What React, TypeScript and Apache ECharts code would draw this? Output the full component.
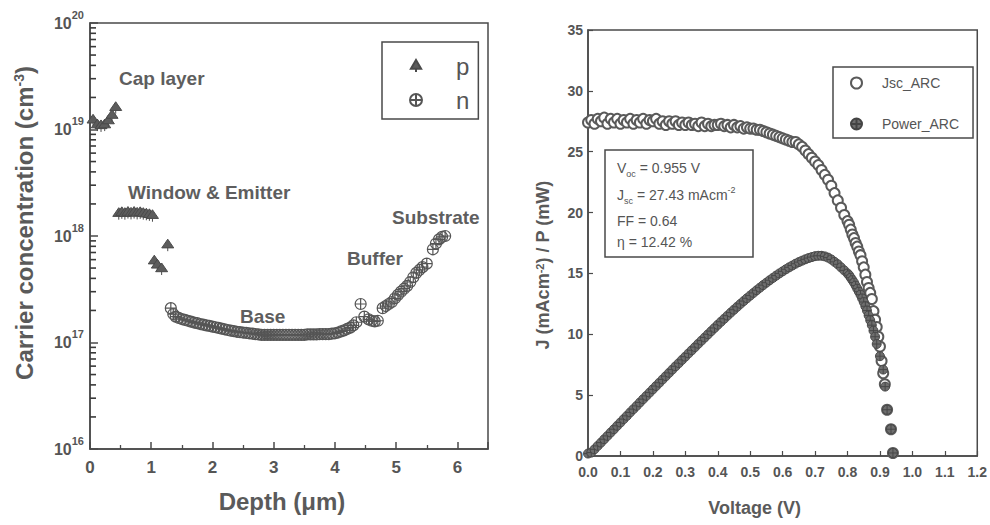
import React, { useEffect, useRef } from 'react';
import * as echarts from 'echarts';

const FONT = "'Liberation Sans', Arial, Helvetica, sans-serif";
const INK = '#4a4a4a';
const TXT = '#555555';

// ---------- Left panel: carrier concentration profile ----------
const pDepth = [0.05, 0.12, 0.18, 0.24, 0.3, 0.36, 0.42,
  0.47, 0.52, 0.57, 0.62, 0.67, 0.72, 0.77, 0.82, 0.87, 0.92, 0.97, 1.02,
  1.05, 1.1, 1.17, 1.27];
const pConc = [1.22e19, 1.1e19, 1.08e19, 1.1e19, 1.2e19, 1.35e19, 1.6e19,
  1.62e18, 1.65e18, 1.62e18, 1.66e18, 1.63e18, 1.66e18, 1.63e18, 1.65e18, 1.62e18, 1.6e18, 1.58e18, 1.55e18,
  5.8e17, 5.3e17, 4.9e17, 8.2e17];

const nDepth = [1.32, 1.36, 1.4, 1.45, 1.5, 1.55, 1.6, 1.65, 1.7, 1.75, 1.8, 1.85, 1.9, 1.95, 2.0,
  2.05, 2.1, 2.15, 2.2, 2.25, 2.3, 2.35, 2.4, 2.45, 2.5, 2.55, 2.6, 2.65, 2.7, 2.75, 2.8, 2.85,
  2.9, 2.95, 3.0, 3.05, 3.1, 3.15, 3.2, 3.25, 3.3, 3.35, 3.4, 3.45, 3.5, 3.55, 3.6, 3.65, 3.7,
  3.75, 3.8, 3.85, 3.9, 3.95, 4.0, 4.05, 4.1, 4.15, 4.2, 4.25, 4.3, 4.35, 4.42, 4.48, 4.55, 4.6,
  4.65, 4.7, 4.78, 4.83, 4.88, 4.93, 4.98, 5.03, 5.08, 5.13, 5.18, 5.23, 5.28, 5.33, 5.38, 5.43,
  5.5, 5.6, 5.65, 5.7, 5.75, 5.8];
const nConc = [2.1e17, 1.85e17, 1.75e17, 1.7e17, 1.66e17, 1.63e17, 1.6e17, 1.57e17, 1.54e17, 1.52e17,
  1.49e17, 1.47e17, 1.45e17, 1.43e17, 1.41e17, 1.39e17, 1.37e17, 1.35e17, 1.33e17, 1.31e17, 1.29e17,
  1.28e17, 1.26e17, 1.25e17, 1.24e17, 1.23e17, 1.22e17, 1.21e17, 1.2e17, 1.19e17, 1.18e17, 1.18e17,
  1.18e17, 1.18e17, 1.18e17, 1.18e17, 1.18e17, 1.18e17, 1.18e17, 1.18e17, 1.18e17, 1.18e17, 1.18e17,
  1.18e17, 1.18e17, 1.19e17, 1.19e17, 1.19e17, 1.19e17, 1.2e17, 1.2e17, 1.2e17, 1.2e17, 1.21e17,
  1.22e17, 1.24e17, 1.27e17, 1.3e17, 1.34e17, 1.38e17, 1.45e17, 1.55e17, 2.3e17, 1.75e17, 1.65e17,
  1.6e17, 1.58e17, 1.6e17, 2.1e17, 2.2e17, 2.3e17, 2.4e17, 2.6e17, 2.8e17, 3.0e17, 3.2e17, 3.4e17,
  3.7e17, 4.1e17, 4.5e17, 4.8e17, 5.1e17, 5.5e17, 7.5e17, 8.5e17, 9.3e17, 9.8e17, 1.0e18];

// minor tick positions of the log axis (2..9 × each decade)
const minorDecades = [16, 17, 18, 19];
const minorMultipliers = [2, 3, 4, 5, 6, 7, 8, 9];
const logMinorTicks = minorDecades.flatMap((d) => minorMultipliers.map((m) => m * Math.pow(10, d)));

const layerLabels = ['Cap layer', 'Window & Emitter', 'Base', 'Buffer', 'Substrate'];

// ---------- Right panel: J-V and P-V curves ----------
const jscV = [0, 0.01, 0.02, 0.03, 0.04, 0.05, 0.06, 0.07, 0.08, 0.09, 0.1, 0.11, 0.12, 0.13, 0.14,
  0.15, 0.16, 0.17, 0.18, 0.19, 0.2, 0.21, 0.22, 0.23, 0.24, 0.25, 0.26, 0.27, 0.28, 0.29, 0.3, 0.31,
  0.32, 0.33, 0.34, 0.35, 0.36, 0.37, 0.38, 0.39, 0.4, 0.41, 0.42, 0.43, 0.44, 0.45, 0.46, 0.47, 0.48,
  0.49, 0.5, 0.51, 0.52, 0.53, 0.54, 0.55, 0.56, 0.57, 0.58, 0.59, 0.6, 0.61, 0.62, 0.63, 0.64, 0.65,
  0.66, 0.67, 0.68, 0.69, 0.7, 0.71, 0.72, 0.73, 0.74, 0.75, 0.76, 0.77, 0.78, 0.79, 0.8, 0.805, 0.81,
  0.815, 0.82, 0.825, 0.83, 0.835, 0.84, 0.845, 0.85, 0.855, 0.86, 0.865, 0.87, 0.875, 0.88, 0.885,
  0.89, 0.895, 0.9, 0.905, 0.91, 0.915, 0.922, 0.934, 0.94];
const jscJ = [27.4, 27.6, 27.3, 27.7, 27.5, 27.8, 27.3, 27.7, 27.4, 27.7, 27.3, 27.6, 27.4, 27.7, 27.3,
  27.6, 27.4, 27.7, 27.3, 27.6, 27.5, 27.7, 27.3, 27.5, 27.2, 27.5, 27.3, 27.5, 27.2, 27.4, 27.2, 27.4,
  27.2, 27.3, 27.1, 27.4, 27.1, 27.3, 27.1, 27.2, 27.2, 27.3, 27.1, 27.2, 27.0, 27.2, 27.0, 27.1, 26.9,
  27.0, 26.9, 26.9, 26.8, 26.8, 26.7, 26.6, 26.5, 26.4, 26.3, 26.2, 26.1, 26.0, 25.9, 25.8, 25.8, 25.6,
  25.4, 25.1, 24.8, 24.5, 24.2, 23.9, 23.5, 23.1, 22.7, 22.2, 21.6, 21.0, 20.4, 19.8, 19.3, 19.0, 18.6,
  18.2, 17.9, 17.5, 17.2, 16.8, 16.5, 16.0, 15.5, 14.9, 14.3, 13.8, 13.4, 12.9, 11.9, 11.2,
  10.6, 9.8, 9.0, 7.8, 6.8, 5.9, 3.8, 2.2, 0.25];

const powV = [0, 0.01, 0.02, 0.03, 0.04, 0.05, 0.06, 0.07, 0.08, 0.09, 0.1, 0.11, 0.12, 0.13, 0.14,
  0.15, 0.16, 0.17, 0.18, 0.19, 0.2, 0.21, 0.22, 0.23, 0.24, 0.25, 0.26, 0.27, 0.28, 0.29, 0.3, 0.31,
  0.32, 0.33, 0.34, 0.35, 0.36, 0.37, 0.38, 0.39, 0.4, 0.41, 0.42, 0.43, 0.44, 0.45, 0.46, 0.47, 0.48,
  0.49, 0.5, 0.51, 0.52, 0.53, 0.54, 0.55, 0.56, 0.57, 0.58, 0.59, 0.6, 0.61, 0.62, 0.63, 0.64, 0.65,
  0.66, 0.67, 0.68, 0.69, 0.7, 0.71, 0.72, 0.73, 0.74, 0.75, 0.76, 0.77, 0.78, 0.79, 0.8, 0.805, 0.81,
  0.815, 0.82, 0.825, 0.83, 0.835, 0.84, 0.845, 0.85, 0.855, 0.86, 0.865, 0.87, 0.875, 0.88, 0.885,
  0.89, 0.9, 0.91, 0.916, 0.922, 0.934, 0.94];
const powP = [0.2, 0.28, 0.55, 0.83, 1.1, 1.38, 1.65, 1.93, 2.2, 2.48, 2.75, 3.03, 3.3, 3.58, 3.85,
  4.12, 4.4, 4.67, 4.94, 5.21, 5.48, 5.75, 6.02, 6.29, 6.56, 6.83, 7.1, 7.37, 7.63, 7.9, 8.16, 8.43,
  8.69, 8.95, 9.22, 9.48, 9.74, 10.0, 10.26, 10.52, 10.78, 11.03, 11.28, 11.53, 11.78, 12.02, 12.26,
  12.5, 12.73, 12.96, 13.18, 13.4, 13.62, 13.83, 14.04, 14.24, 14.44, 14.63, 14.82, 15.0, 15.17,
  15.34, 15.5, 15.65, 15.8, 15.93, 16.05, 16.16, 16.26, 16.34, 16.42, 16.45, 16.45, 16.4, 16.3,
  16.15, 15.95, 15.75, 15.5, 15.25, 15.0, 14.85, 14.65, 14.45, 14.25, 14.0, 13.75, 13.5, 13.25,
  12.95, 12.65, 12.3, 11.95, 11.55, 11.15, 10.75, 10.3, 9.8, 9.2, 8.2, 7.1, 5.7, 3.8, 2.2, 0.25];

const zip = (xs: number[], ys: number[]) => xs.map((x, i) => [x, ys[i]]);

const CROSS_CIRCLE = 'path://M10,0A10,10,0,1,1,-10,0A10,10,0,1,1,10,0ZM-10,0L10,0M0,-10L0,10';
const TRI_STEM = 'path://M0,-10L8.5,4.5L-8.5,4.5ZM0,4.5L0,10';

export default function App() {
  const ref = useRef<HTMLDivElement>(null);

  useEffect(() => {
    const chart = echarts.init(ref.current!, null, { renderer: 'svg' });

    const annotation = (text: string, x: number, y: number) => ({
      type: 'text', x, y,
      style: { text, font: `bold 19px ${FONT}`, fill: '#5e5e5e', align: 'left', verticalAlign: 'middle' },
    });

    const infoRich = {
      n: { fontSize: 14, fontFamily: FONT, color: TXT, lineHeight: 20 },
      sub: { fontSize: 9, fontFamily: FONT, color: TXT, verticalAlign: 'bottom' },
      sup: { fontSize: 9, fontFamily: FONT, color: TXT, verticalAlign: 'top' },
    };
    const infoText = [
      '{n|V}{sub|oc}{n| = 0.955 V}',
      '{n|J}{sub|sc}{n| = 27.43 mAcm}{sup|-2}',
      '{n|FF = 0.64}',
      '{n|η = 12.42 %}',
    ];
    const infoY = [168, 195, 221, 242];

    const axisLabelStyle = { color: TXT, fontWeight: 'bold', fontFamily: FONT };

    const option: any = {
      animation: false,
      backgroundColor: '#ffffff',
      textStyle: { fontFamily: FONT },
      grid: [
        { left: 90, top: 23, width: 398, height: 426, show: true, borderColor: INK, borderWidth: 1.5, backgroundColor: 'transparent' },
        { left: 588, top: 30, width: 396, height: 426, show: true, borderColor: INK, borderWidth: 1.5, backgroundColor: 'transparent' },
      ],
      xAxis: [
        {
          gridIndex: 0, type: 'value', min: 0, max: 6.5, interval: 1,
          name: 'Depth (μm)', nameLocation: 'middle', nameGap: 40,
          nameTextStyle: { fontSize: 24, fontWeight: 'bold', color: '#5a5a5a', fontFamily: FONT, padding: [0, 14, 0, 0] },
          axisLine: { lineStyle: { color: INK, width: 1.5 } },
          axisTick: { inside: true, length: 7, lineStyle: { color: INK, width: 1.5 } },
          minorTick: { show: true, splitNumber: 2, length: 4, lineStyle: { color: INK, width: 1.3 } },
          axisLabel: { ...axisLabelStyle, fontSize: 17, margin: 10, formatter: (v: number) => (Number.isInteger(v) ? String(v) : '') },
          splitLine: { show: false },
        },
        {
          gridIndex: 1, type: 'value', min: 0, max: 1.2, interval: 0.1,
          name: 'Voltage (V)', nameLocation: 'middle', nameGap: 43,
          nameTextStyle: { fontSize: 18, fontWeight: 'bold', color: '#5a5a5a', fontFamily: FONT, padding: [0, 56, 0, 0] },
          axisLine: { lineStyle: { color: INK, width: 1.5 } },
          axisTick: { inside: true, length: 5, lineStyle: { color: INK, width: 1.2 } },
          axisLabel: { ...axisLabelStyle, fontSize: 14, margin: 9, formatter: (v: number) => v.toFixed(1) },
          splitLine: { show: false },
        },
      ],
      yAxis: [
        {
          gridIndex: 0, type: 'log', logBase: 10, min: 1e16, max: 1e20,
          name: 'Carrier concentration (cm{sup|-3})', nameLocation: 'middle', nameGap: 54, nameRotate: 90,
          nameTextStyle: {
            fontSize: 24, fontWeight: 'bold', color: '#5a5a5a', fontFamily: FONT, padding: [0, 0, 0, 26],
            rich: { sup: { fontSize: 14, fontWeight: 'bold', color: '#5a5a5a', verticalAlign: 'top', fontFamily: FONT } },
          },
          axisLine: { lineStyle: { color: INK, width: 1.5 } },
          axisTick: { inside: true, length: 8, lineStyle: { color: INK, width: 1.5 } },
          axisLabel: {
            margin: 6,
            formatter: (v: number) => {
              const e = v > 1000 ? Math.round(Math.log10(v)) : Math.round(v);
              return `{b|10}{s|${e}}`;
            },
            rich: {
              b: { fontSize: 16, fontWeight: 'bold', color: TXT, lineHeight: 28, fontFamily: FONT },
              s: { fontSize: 11, fontWeight: 'bold', color: TXT, verticalAlign: 'top', fontFamily: FONT },
            },
          },
          splitLine: { show: false },
        },
        {
          gridIndex: 1, type: 'value', min: 0, max: 35, interval: 5,
          name: 'J (mAcm{sup|-2}) / P (mW)', nameLocation: 'middle', nameGap: 36, nameRotate: 90,
          nameTextStyle: {
            fontSize: 18, fontWeight: 'bold', color: '#5a5a5a', fontFamily: FONT, padding: [0, 44, 0, 0],
            rich: { sup: { fontSize: 11, fontWeight: 'bold', color: '#5a5a5a', verticalAlign: 'top', fontFamily: FONT } },
          },
          axisLine: { lineStyle: { color: INK, width: 1.5 } },
          axisTick: { inside: true, length: 5, lineStyle: { color: INK, width: 1.2 } },
          axisLabel: { ...axisLabelStyle, fontSize: 14, margin: 5 },
          splitLine: { show: false },
        },
      ],
      legend: [
        {
          data: ['p', 'n'], orient: 'vertical', left: 382, top: 42,
          padding: [12, 9, 7, 27], itemGap: 10, itemWidth: 12, itemHeight: 12,
          borderColor: INK, borderWidth: 1.5, selectedMode: false,
          textStyle: { fontSize: 24, lineHeight: 24, color: TXT, fontFamily: FONT, padding: [0, 0, 0, 29] },
        },
        {
          data: ['Jsc_ARC', 'Power_ARC'], orient: 'vertical', left: 833, top: 67,
          padding: [8, 14, 6, 17], itemGap: 25, itemWidth: 11, itemHeight: 11,
          borderColor: INK, borderWidth: 1.5, selectedMode: false,
          textStyle: { fontSize: 14, lineHeight: 16, color: TXT, fontFamily: FONT, padding: [0, 0, 0, 15] },
        },
      ],
      series: [
        {
          // minor ticks of the log axis, placed through the axis scale at depth 0
          name: 'minorTicks', type: 'scatter', xAxisIndex: 0, yAxisIndex: 0,
          symbol: 'rect', symbolSize: [6, 1.6], symbolOffset: [3, 0],
          itemStyle: { color: '#3a3a3a', opacity: 1 }, silent: true, clip: false, z: 5,
          data: logMinorTicks.map((v) => [0, v]),
        },
        {
          name: 'p', type: 'scatter', xAxisIndex: 0, yAxisIndex: 0,
          symbol: TRI_STEM, symbolSize: 12,
          itemStyle: { color: '#5c5c5c', borderColor: '#4a4a4a', borderWidth: 1, opacity: 1 },
          data: zip(pDepth, pConc),
        },
        {
          name: 'n', type: 'scatter', xAxisIndex: 0, yAxisIndex: 0,
          symbol: CROSS_CIRCLE, symbolSize: 11,
          itemStyle: { color: 'rgba(255,255,255,0)', borderColor: '#555', borderWidth: 1.2, opacity: 1 },
          data: zip(nDepth, nConc),
        },
        {
          name: 'Jsc_ARC', type: 'scatter', xAxisIndex: 1, yAxisIndex: 1,
          symbol: 'emptyCircle', symbolSize: 10,
          itemStyle: { color: '#5a5a5a', borderColor: '#5a5a5a', borderWidth: 1.1, opacity: 1 },
          data: zip(jscV, jscJ),
        },
        {
          name: 'Power_ARC', type: 'scatter', xAxisIndex: 1, yAxisIndex: 1,
          symbol: CROSS_CIRCLE, symbolSize: 9,
          itemStyle: { color: '#6e6e6e', borderColor: '#444', borderWidth: 0.9, opacity: 1 },
          data: zip(powV, powP),
        },
      ],
      graphic: [
        annotation(layerLabels[0], 119, 78),
        annotation(layerLabels[1], 128, 192),
        annotation(layerLabels[2], 240, 316),
        annotation(layerLabels[3], 347, 258),
        annotation(layerLabels[4], 392, 217),
        {
          type: 'rect', shape: { x: 605, y: 150, width: 148, height: 107 },
          style: { fill: '#ffffff', stroke: INK, lineWidth: 1.5 }, z: 10,
        },
        ...infoText.map((t, i) => ({
          type: 'text', x: 617, y: infoY[i], z: 11,
          style: { text: t, rich: infoRich, align: 'left', verticalAlign: 'middle', fill: TXT, font: `14px ${FONT}` },
        })),
      ],
    };

    chart.setOption(option);
    return () => chart.dispose();
  }, []);

  return (
    <div
      ref={ref}
      style={{ position: 'fixed', left: 0, top: 0, width: 990, height: 525, background: '#ffffff' }}
    />
  );
}
